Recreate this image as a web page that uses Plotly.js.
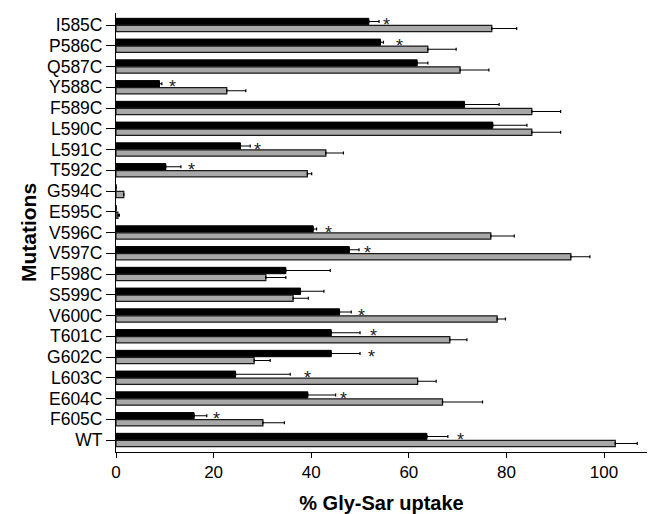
<!DOCTYPE html>
<html>
<head>
<meta charset="utf-8">
<script src="https://cdn.plot.ly/plotly-3.0.1.min.js"></script>
<style>html,body{margin:0;padding:0;background:#fff;}#chart{width:648px;height:514px;}</style>
</head>
<body>
<div id="chart"></div>
<script>
var categories = ['I585C','P586C','Q587C','Y588C','F589C','L590C','L591C','T592C','G594C','E595C','V596C','V597C','F598C','S599C','V600C','T601C','G602C','L603C','E604C','F605C','WT'];
var blackValues = [51.8,54.2,61.7,8.9,71.4,77.2,25.5,10.2,0,0,40.4,47.8,34.8,37.8,45.8,44.1,44.1,24.5,39.3,16.0,63.7];
var blackErrors = [2.1,0.6,2.2,0.5,7.1,7.0,2.0,3.1,0,0,0.7,2.0,9.1,4.8,2.4,5.9,5.9,11.2,5.7,2.6,4.3];
var grayValues = [77.0,63.9,70.5,22.7,85.2,85.2,43.0,39.2,1.6,0.4,76.8,93.2,30.7,36.3,78.1,68.4,28.3,61.8,66.9,30.1,102.3];
var grayErrors = [5.1,5.8,5.9,3.9,5.9,5.9,3.6,0.9,0,0.3,4.8,3.9,4.1,3.1,1.7,3.5,3.3,3.8,8.2,4.4,4.5];
var starPositions = [55.5,58.0,null,11.5,null,null,28.9,15.4,null,null,43.6,51.6,null,null,50.4,52.7,52.3,39.3,46.7,20.6,70.6];
var xTicks = [0,20,40,60,80,100];

var zeros = categories.map(function(){return 0;});
var traces = [
  {type:'bar', orientation:'h', y:categories, x:blackValues,
   marker:{color:'#000000', line:{color:'#000000', width:1}},
   error_x:{type:'data', symmetric:false, array:blackErrors, arrayminus:zeros, color:'#000000', thickness:1.2, width:1.5},
   hoverinfo:'skip', showlegend:false},
  {type:'bar', orientation:'h', y:categories, x:grayValues,
   marker:{color:'#a8a8a8', line:{color:'#1a1a1a', width:1.2}},
   error_x:{type:'data', symmetric:false, array:grayErrors, arrayminus:zeros, color:'#000000', thickness:1.2, width:1.5},
   hoverinfo:'skip', showlegend:false}
];

var annotations = [];
categories.forEach(function(c, i){
  if (starPositions[i] !== null) {
    annotations.push({x: starPositions[i], y: c, xref:'x', yref:'y', text:'*', showarrow:false,
      yshift: 0, font:{family:'Liberation Sans, Arial, sans-serif', size:18, color:'#222'}});
  }
});

var layout = {
  width:648, height:514,
  margin:{l:116, r:1, t:13, b:62},
  paper_bgcolor:'#ffffff', plot_bgcolor:'#ffffff',
  barmode:'group', bargap:0.33, bargroupgap:0.08,
  font:{family:'Liberation Sans, Arial, sans-serif', color:'#000'},
  xaxis:{range:[0,108.8], tickvals:xTicks, ticktext:xTicks.map(String), ticks:'outside', ticklen:5, tickcolor:'#000',
         showline:true, linecolor:'#000', linewidth:1, showgrid:false, zeroline:false,
         tickfont:{size:17, color:'#000'},
         title:{text:'% Gly-Sar uptake', font:{size:20, color:'#000', family:'Liberation Sans, Arial, sans-serif', weight:'bold'}, standoff:14}},
  yaxis:{type:'category', categoryorder:'array', categoryarray:categories, autorange:'reversed',
         tickmode:'array', tickvals:categories, ticktext:categories,
         ticks:'outside', ticklen:9, tickcolor:'#000', showline:true, linecolor:'#000', linewidth:1,
         showgrid:false, zeroline:false, tickfont:{size:17.5, color:'#000'},
         title:{text:'Mutations', font:{size:21, color:'#000', family:'Liberation Sans, Arial, sans-serif', weight:'bold'}, standoff:4}},
  annotations:annotations
};

Plotly.newPlot('chart', traces, layout, {displayModeBar:false, staticPlot:true});
</script>
</body>
</html>
